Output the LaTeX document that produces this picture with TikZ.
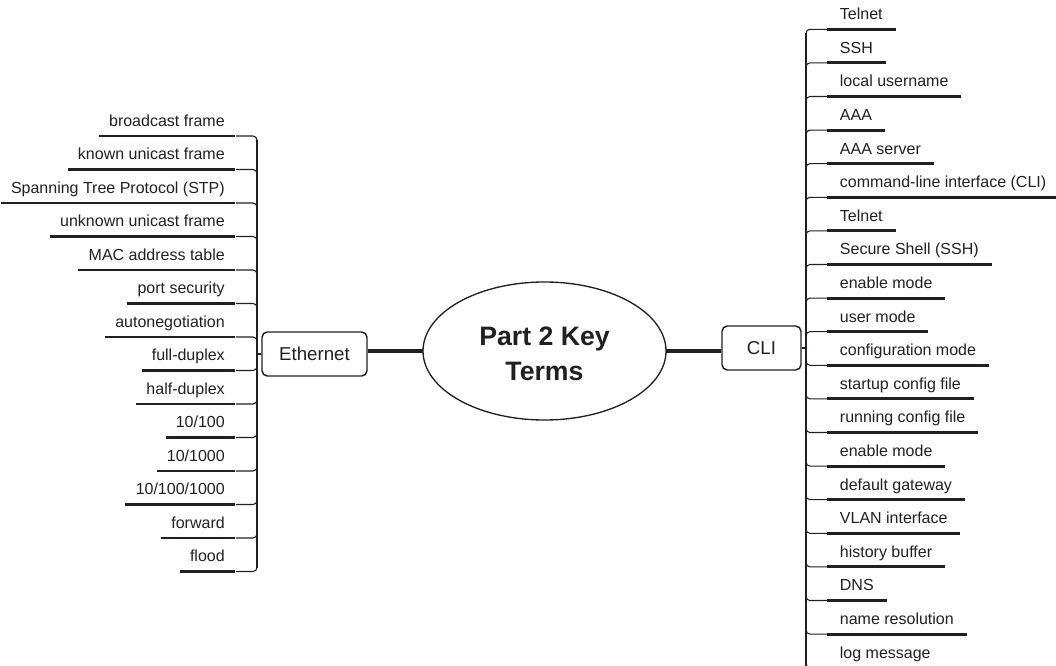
\documentclass[tikz,border=0pt]{standalone}
\usepackage{fontspec}
\setmainfont{Liberation Sans}
\usetikzlibrary{calc}
\definecolor{ink}{HTML}{231F20}
\begin{document}
\begin{tikzpicture}[x=0.75pt,y=-0.75pt,
  every node/.style={text=ink},
  itemtext/.style={font=\fontsize{12}{14}\selectfont, inner ysep=0pt, text height=9pt, text depth=7pt},
  litem/.style={itemtext, anchor=south east, inner xsep=7.5pt},
  ritem/.style={itemtext, anchor=south west, inner xsep=9.5pt},
  uline/.style={draw=ink, line width=2.2pt},
  stub/.style={draw=ink, line width=0.8pt, rounded corners=3pt},
  barline/.style={draw=ink, line width=1.7pt},
  mainline/.style={draw=ink, line width=2.3pt},
  topicbox/.style={draw=ink, line width=1.1pt, rounded corners=4pt, font=\fontsize{14}{16}\selectfont, inner sep=0pt}
]
\useasboundingbox (0,0) rectangle (1056,666);
\clip (0,0) rectangle (1056,666);

% central title
\draw[draw=ink, line width=1pt] (544.5,351) ellipse [x radius=121.5, y radius=69];
\node[font=\fontsize{20}{26}\selectfont\bfseries, align=center, inner sep=0pt] (title) at (544.5,354) {Part 2 Key\\Terms};
\coordinate (tW) at (423,351);
\coordinate (tE) at (666,351);

% topic boxes
\node[topicbox, minimum width=105*0.75pt, minimum height=44*0.75pt] (eth) at (314.5,354) {Ethernet};
\node[topicbox, minimum width=79*0.75pt, minimum height=44*0.75pt] (cli) at (761.5,348) {CLI};

\draw[mainline] (tW) -- (tW -| eth.east);
\draw[mainline] (tE) -- (tE -| cli.west);

% attach points
\coordinate (lA) at (257,353.5);
\coordinate (rA) at (806,348);
\draw[stub] (eth.west) -- (eth.west -| lA);
\draw[stub] (cli.east) -- (cli.east -| rA);

% left items
\foreach \t [count=\i from 0] in {broadcast frame,known unicast frame,Spanning Tree Protocol (STP),unknown unicast frame,MAC address table,port security,autonegotiation,full-duplex,half-duplex,10/100,10/1000,10/100/1000,forward,flood}{
  \node[litem] (l\i) at (235,136+33.5*\i) {\t};
  \draw[uline] (l\i.south west) -- (l\i.south east);
  \draw[stub] (lA) |- (l\i.south east) -- ++(1,0);
}
\draw[barline] (257,140) -- (257,568);

% right items
\foreach \t [count=\i from 0] in {Telnet,SSH,local username,AAA,AAA server,command-line interface (CLI),Telnet,Secure Shell (SSH),enable mode,user mode,configuration mode,startup config file,running config file,enable mode,default gateway,VLAN interface,history buffer,DNS,name resolution,log message}{
  \node[ritem] (r\i) at (827,29.3+33.6*\i) {\t};
  \draw[uline] (r\i.south west) -- (r\i.south east);
  \draw[stub] (rA) |- (r\i.south west);
}
\draw[barline] (806,33) -- (806,670);
\end{tikzpicture}
\end{document}
